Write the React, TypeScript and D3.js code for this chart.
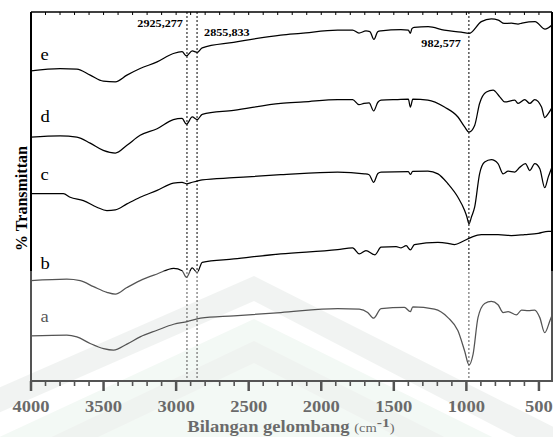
import * as d3 from "d3";

const W = 553;
const H = 437;
const MARGIN = { top: 12, right: 1, bottom: 56, left: 31 };
const STRETCH = 1.16; // source figure is slightly stretched horizontally

// wavenumber (cm-1), transmittance (arbitrary units, samples offset)
const sampleA: [number, number][] = [
  [4000, 15.3], [3753, 15.6], [3684, 15], [3592, 12.8], [3500, 11.1], [3431, 10.6],
  [3339, 12.6], [3248, 15], [3131, 17.2], [3017, 19.2], [2924, 20.1], [2832, 21.2],
  [2602, 22], [2279, 23.1], [1887, 24.4], [1738, 24.2], [1680, 23.1], [1639, 21.2],
  [1588, 24.4], [1427, 24.8], [1386, 23.4], [1369, 25], [1220, 24.2], [1127, 21.4],
  [1058, 17], [1012, 10.3], [982, 5.7], [954, 9.2], [920, 21.4], [874, 26.1],
  [828, 26.8], [782, 25.7], [747, 23.1], [712, 23.4], [655, 22.3], [620, 23.9],
  [574, 23.7], [529, 23.9], [494, 21.4], [460, 16.4], [425, 20.3], [410, 22.2],
];
const sampleB: [number, number][] = [
  [4000, 33.7], [3753, 34.2], [3661, 33.7], [3569, 31.7], [3477, 29.8], [3419, 29.2],
  [3339, 31.4], [3248, 33.7], [3131, 35.9], [3017, 37.8], [2959, 37], [2929, 34.8],
  [2889, 37.9], [2855, 36.4], [2820, 39.8], [2602, 40.9], [2279, 42.6], [1887, 44],
  [1784, 44.6], [1738, 42.6], [1692, 43.7], [1630, 42.3], [1588, 44.8], [1484, 45],
  [1450, 44.6], [1415, 45.3], [1386, 43.9], [1358, 45.7], [1196, 46.4], [1127, 46.1],
  [1081, 45.7], [1023, 46.8], [966, 48.1], [897, 49], [782, 49], [690, 48.7],
  [598, 49], [505, 49.4], [436, 50.1], [410, 50.1],
];
const sampleC: [number, number][] = [
  [4000, 62.6], [3777, 62.6], [3730, 61.4], [3639, 60.3], [3546, 58.1], [3477, 57],
  [3419, 57.2], [3339, 59.2], [3248, 61.4], [3131, 63.7], [3019, 66.1], [2959, 66.4],
  [2929, 65.9], [2889, 66.4], [2855, 66.8], [2820, 67.2], [2604, 67.9], [2279, 68.9],
  [1887, 69.8], [1703, 69.2], [1670, 68.9], [1639, 66.4], [1610, 69.3], [1588, 69.8],
  [1400, 69.9], [1386, 69], [1370, 70], [1265, 70.1], [1196, 69.2], [1127, 65.9],
  [1058, 61.4], [1012, 57], [997, 55], [982, 52.6], [964, 55], [943, 58.1],
  [909, 69.2], [874, 73.1], [828, 73.9], [782, 72.6], [747, 69.2], [712, 70.1],
  [667, 69.8], [632, 71.4], [593, 72.6], [563, 70.3], [529, 72.6], [494, 70.9],
  [460, 64.6], [436, 68.1], [410, 71.5],
];
const sampleD: [number, number][] = [
  [4000, 81.4], [3800, 81.8], [3684, 81.4], [3592, 79.4], [3502, 77], [3419, 76.1],
  [3339, 78.7], [3248, 82], [3131, 84.2], [3019, 87.2], [2959, 87.6], [2929, 85.7],
  [2889, 88.1], [2855, 87.2], [2820, 89], [2604, 90.3], [2279, 92.6], [2120, 93.1],
  [1887, 93.9], [1784, 93.9], [1740, 92.2], [1706, 92.6], [1670, 92.8], [1639, 90.1],
  [1610, 93], [1588, 93.7], [1473, 93.9], [1400, 94], [1386, 91.4], [1369, 94],
  [1265, 93.7], [1151, 91.4], [1058, 88.1], [1012, 84.8], [982, 83.1], [943, 85.3],
  [909, 92.6], [862, 96.4], [816, 97], [770, 94.8], [736, 93.1], [667, 93.7],
  [643, 92.6], [598, 93.9], [563, 92.6], [529, 93.9], [482, 91.4], [460, 87.9],
  [436, 89.2], [410, 91.2],
];
const sampleE: [number, number][] = [
  [4000, 103.4], [3800, 104.2], [3684, 104], [3592, 102], [3502, 100], [3419, 99.8],
  [3339, 102], [3248, 104.2], [3131, 106.4], [3019, 109.2], [2959, 109.8], [2929, 108.4],
  [2889, 110.1], [2855, 109.6], [2820, 111.1], [2604, 112.9], [2279, 115.3], [2141, 115.9],
  [1887, 117], [1784, 117], [1740, 116], [1692, 116.7], [1665, 116.5], [1637, 113.9],
  [1610, 116.5], [1589, 116.7], [1451, 117.1], [1400, 117], [1386, 115.9], [1375, 117.5],
  [1360, 117.9], [1263, 118.1], [1153, 117], [1036, 116.3], [982, 115.9], [897, 119.8],
  [828, 120.7], [780, 120.3], [739, 119.2], [690, 119.3], [644, 119], [617, 119.3],
  [569, 119.7], [527, 119.8], [458, 117.3], [437, 117.7], [410, 118.7],
];

const SAMPLES = [sampleA, sampleB, sampleC, sampleD, sampleE];
const SAMPLE_LABELS = ["a", "b", "c", "d", "e"];
const LABEL_LEVELS = [19.8, 37.6, 67.3, 86.4, 107];

const PEAKS = [2925.277, 2855.833, 982.577];
const PEAK_LABELS = ["2925,277", "2855,833", "982,577"];
const PEAK_LABEL_LEVELS = [118, 115, 111.3];

const X_DOMAIN: [number, number] = [4000, 410];
const Y_DOMAIN: [number, number] = [0, 123];

const SERIF = "Liberation Serif";

const Stretched = ({ x, y, children, anchor = "middle", ...rest }: any) => (
  <g transform={`translate(${x},${y}) scale(${STRETCH},1)`}>
    <text textAnchor={anchor} {...rest}>
      {children}
    </text>
  </g>
);

export default function App() {
  const boundsW = W - MARGIN.left - MARGIN.right;
  const boundsH = H - MARGIN.top - MARGIN.bottom;
  const x = d3.scaleLinear().domain(X_DOMAIN).range([MARGIN.left, MARGIN.left + boundsW]);
  const y = d3.scaleLinear().domain(Y_DOMAIN).range([MARGIN.top + boundsH + 1, MARGIN.top]);
  const bottom = MARGIN.top + boundsH;
  const right = MARGIN.left + boundsW;

  const line = d3
    .line<[number, number]>()
    .x((d) => x(d[0]))
    .y((d) => y(d[1]))
    .curve(d3.curveMonotoneX);

  const minorTicks = d3.range(4000, 400, -100);
  const majorTicks = d3.range(4000, 400, -500);

  // watermark sits in the lower part of the scanned figure
  const wmTop = 271;
  const apexX = 254;

  return (
    <svg
      width={W}
      height={H}
      style={{ position: "absolute", left: 0, top: 0, background: "#fff", fontFamily: SERIF }}
    >
      {/* watermark logo (faint) */}
      <g>
        <path
          d={`M${-20},${wmTop + 125} L${apexX},${wmTop + 5} L${W + 40},${H + 10} L${W + 40},${H + 40} L${apexX},${wmTop + 30} L${-20},${wmTop + 150} Z`}
          fill="#ebeeec"
        />
        <path
          d={`M${-20},${wmTop + 175} L${apexX},${wmTop + 48} L${W + 40},${H + 50} L${-20},${H + 50} Z`}
          fill="#eef6f0"
        />
        <path
          d={`M${-20},${wmTop + 200} L${apexX},${wmTop + 70} L${W + 40},${H + 75} L${W + 40},${H + 100} L${apexX},${wmTop + 92} L${-20},${wmTop + 222} Z`}
          fill="#e8ede9"
        />
      </g>

      {/* dotted peak markers */}
      {PEAKS.map((p) => (
        <line
          key={p}
          x1={x(p)}
          x2={x(p)}
          y1={MARGIN.top}
          y2={bottom}
          stroke="#000"
          strokeWidth={1}
          strokeDasharray="2,2"
        />
      ))}

      {/* spectra */}
      {SAMPLES.map((s, i) => (
        <path key={i} d={line(s) ?? ""} fill="none" stroke="#000" strokeWidth={1.25} strokeLinejoin="round" />
      ))}

      {/* sample labels */}
      {SAMPLE_LABELS.map((l, i) => (
        <Stretched key={l} x={x(3935)} y={y(LABEL_LEVELS[i])} anchor="start" fontSize={16} fill="#000">
          {l}
        </Stretched>
      ))}

      {/* peak labels */}
      <Stretched x={x(PEAKS[0]) - 4} y={y(PEAK_LABEL_LEVELS[0])} anchor="end" fontSize={10.5} fontWeight="bold">
        {PEAK_LABELS[0]}
      </Stretched>
      <Stretched x={x(PEAKS[1]) + 7} y={y(PEAK_LABEL_LEVELS[1])} anchor="start" fontSize={10.5} fontWeight="bold">
        {PEAK_LABELS[1]}
      </Stretched>
      <Stretched x={x(PEAKS[2]) - 8} y={y(PEAK_LABEL_LEVELS[2])} anchor="end" fontSize={10.5} fontWeight="bold">
        {PEAK_LABELS[2]}
      </Stretched>

      {/* frame */}
      <line x1={MARGIN.left} x2={right} y1={MARGIN.top} y2={MARGIN.top} stroke="#000" strokeWidth={1.5} />
      <line x1={MARGIN.left} x2={MARGIN.left} y1={MARGIN.top} y2={bottom} stroke="#000" strokeWidth={2} />
      <line x1={right} x2={right} y1={MARGIN.top} y2={bottom} stroke="#000" strokeWidth={2} />
      <line x1={MARGIN.left - 1} x2={right + 1} y1={bottom} y2={bottom} stroke="#000" strokeWidth={2} />

      {/* top ticks (inward) */}
      {minorTicks.map((t) => (
        <line key={"t" + t} x1={x(t)} x2={x(t)} y1={MARGIN.top} y2={MARGIN.top + 3} stroke="#000" strokeWidth={1} />
      ))}
      {/* bottom ticks (outward) */}
      {minorTicks.map((t) => {
        const major = t % 500 === 0;
        return (
          <line
            key={"b" + t}
            x1={x(t)}
            x2={x(t)}
            y1={bottom}
            y2={bottom + (major ? 10 : 5)}
            stroke="#000"
            strokeWidth={major ? 2.5 : 1.6}
          />
        );
      })}
      {majorTicks.map((t) => (
        <Stretched key={"l" + t} x={x(t)} y={bottom + 31} fontSize={16} fontWeight="bold" fill="#222">
          {t}
        </Stretched>
      ))}

      {/* axis titles */}
      <Stretched x={291} y={bottom + 51} fontSize={16} fontWeight="bold" fill="#222">
        Bilangan gelombang{" "}
        <tspan fontSize={12.5} fontWeight="normal">(cm</tspan>
        <tspan dy={-5} fontSize={13.5}>-1</tspan>
        <tspan dy={5} fontSize={12.5} fontWeight="normal">)</tspan>
      </Stretched>
      <text
        transform={`translate(27,${(MARGIN.top + bottom) / 2 + 2}) rotate(-90)`}
        textAnchor="middle"
        fontSize={16}
        fontWeight="bold"
      >
        % Transmittan
      </text>

      {/* scan fade over lower region */}
      <rect x={0} y={wmTop} width={W} height={H - wmTop} fill="#fff" opacity={0.33} />
    </svg>
  );
}
